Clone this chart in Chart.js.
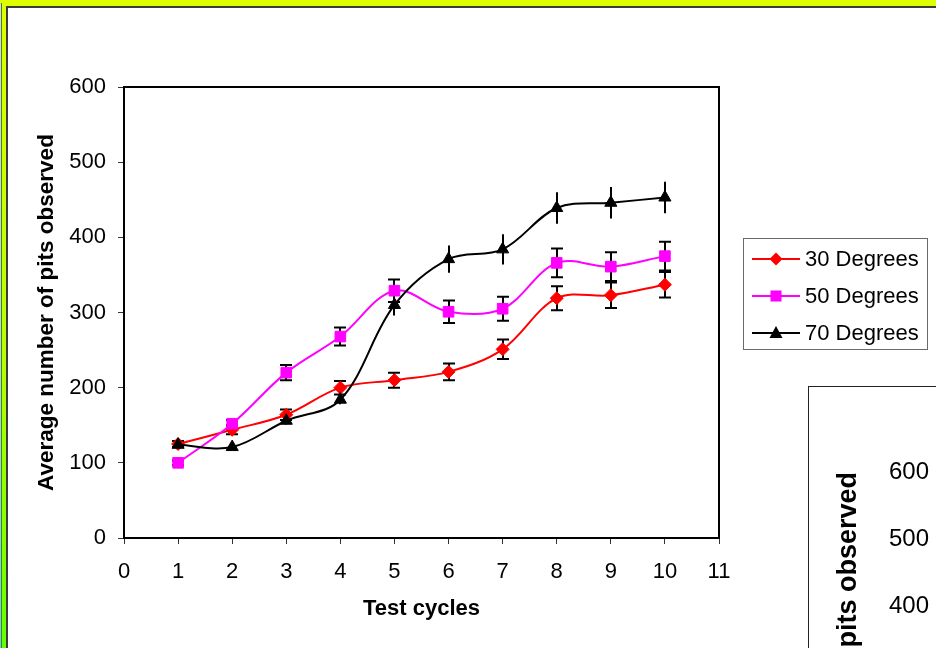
<!DOCTYPE html>
<html>
<head>
<meta charset="utf-8">
<script src="https://cdn.jsdelivr.net/npm/chart.js@4.4.0/dist/chart.umd.min.js"></script>
<style>
html, body { margin: 0; padding: 0; width: 936px; height: 648px; overflow: hidden; }
body { position: relative; background: linear-gradient(to bottom, #dfff00 0%, #b8ff00 55%, #66ff00 100%); }
#edge { position: absolute; left: 1px; top: 3px; width: 1px; height: 645px; background: #3a5cff; }
#page { position: absolute; left: 6px; top: 6px; width: 1000px; height: 1000px; background: #fff;
        border-left: 2px solid #3c3c3c; border-top: 2px solid #3c3c3c; }
#main { position: absolute; left: 0; top: 0; }
#box2 { position: absolute; left: 808px; top: 386px; width: 600px; height: 600px; background: #fff;
        border-left: 1px solid #222; border-top: 1px solid #222; }
#second { position: absolute; left: 0; top: 0; }
</style>
</head>
<body>
<div id="edge"></div>
<div id="page"></div>
<canvas id="main" width="936" height="648"></canvas>
<div id="box2"><canvas id="second" width="600" height="600"></canvas></div>
<script>
// data
var cycles = [1, 2, 3, 4, 5, 6, 7, 8, 9, 10];
var deg30 = [125, 144, 164, 200, 210, 221, 251, 319, 323, 337];
var deg30_err = [4, 6, 7, 9, 10, 11, 13, 16, 17, 17];
var deg50 = [100, 152, 220, 268, 329, 301, 305, 366, 361, 375];
var deg50_err = [3, 5, 10, 12, 15, 15, 16, 19, 19, 19];
var deg70 = [124, 121, 156, 184, 310, 371, 384, 439, 446, 453];
var deg70_err = [4, 3, 5, 6, 14, 18, 20, 21, 21, 21];
var x_ticks = [0, 1, 2, 3, 4, 5, 6, 7, 8, 9, 10, 11];
var y_ticks = [0, 100, 200, 300, 400, 500, 600];
var series_labels = ["30 Degrees", "50 Degrees", "70 Degrees"];

var FONT = "'Liberation Sans', Arial, sans-serif";

function points(ys) {
    return cycles.map(function(c, i) { return { x: c, y: ys[i] }; });
}

function drawMarker(ctx, shape, x, y, color) {
    ctx.save();
    ctx.fillStyle = color;
    ctx.beginPath();
    if (shape === "rectRot") {
        var r = 6.5;
        ctx.moveTo(x, y - r); ctx.lineTo(x + r, y); ctx.lineTo(x, y + r); ctx.lineTo(x - r, y);
    } else if (shape === "rect") {
        ctx.rect(x - 5.5, y - 5.5, 11, 11);
    } else {
        ctx.moveTo(x, y - 7); ctx.lineTo(x + 6.5, y + 5); ctx.lineTo(x - 6.5, y + 5);
    }
    ctx.closePath();
    ctx.fill();
    ctx.restore();
}

// error bars, drawn under the markers
var errorBars = {
    id: "errorBars",
    beforeDatasetsDraw: function(chart) {
        var ctx = chart.ctx;
        var xs = chart.scales.x, ys = chart.scales.y;
        ctx.save();
        ctx.strokeStyle = "#000";
        ctx.lineWidth = 2;
        chart.data.datasets.forEach(function(ds) {
            if (!ds.errors) return;
            ds.data.forEach(function(p, i) {
                var e = ds.errors[i];
                var px = Math.round(xs.getPixelForValue(p.x));
                var top = ys.getPixelForValue(p.y + e);
                var bot = ys.getPixelForValue(p.y - e);
                ctx.beginPath();
                ctx.moveTo(px, top); ctx.lineTo(px, bot);
                if (ds.capWidth) {
                    ctx.moveTo(px - ds.capWidth, top); ctx.lineTo(px + ds.capWidth, top);
                    ctx.moveTo(px - ds.capWidth, bot); ctx.lineTo(px + ds.capWidth, bot);
                }
                ctx.stroke();
            });
        });
        ctx.restore();
    },
    afterDraw: function(chart) {
        var ctx = chart.ctx, a = chart.chartArea;
        ctx.save();
        // plot box
        ctx.strokeStyle = "#000";
        ctx.lineWidth = 2;
        ctx.strokeRect(a.left, a.top, a.right - a.left, a.bottom - a.top);
        // legend
        ctx.lineWidth = 1;
        ctx.strokeStyle = "#6a6a6a";
        ctx.strokeRect(743.5, 238.5, 184, 111);
        ctx.font = "22px " + FONT;
        ctx.textBaseline = "middle";
        ctx.fillStyle = "#000";
        chart.data.datasets.forEach(function(ds, i) {
            var y = 259 + i * 37;
            ctx.strokeStyle = ds.borderColor;
            ctx.lineWidth = 2;
            ctx.beginPath();
            ctx.moveTo(752, y); ctx.lineTo(800, y);
            ctx.stroke();
            drawMarker(ctx, ds.pointStyle, 776, y, ds.pointBackgroundColor);
            ctx.fillStyle = "#000";
            ctx.fillText(ds.label, 805, y + 1);
        });
        ctx.restore();
    }
};

var ctx = document.getElementById("main").getContext("2d");
var myChart = new Chart(ctx, {
    type: "line",
    data: {
        datasets: [{
            label: series_labels[0],
            data: points(deg30),
            errors: deg30_err,
            capWidth: 6,
            borderColor: "#ff0000",
            pointBackgroundColor: "#ff0000",
            pointBorderColor: "#ff0000",
            pointStyle: "rectRot",
            pointRadius: 6.5,
            order: 3,
        }, {
            label: series_labels[1],
            data: points(deg50),
            errors: deg50_err,
            capWidth: 6,
            borderColor: "#ff00ff",
            pointBackgroundColor: "#ff00ff",
            pointBorderColor: "#ff00ff",
            pointStyle: "rect",
            pointRadius: 7.5,
            order: 2,
        }, {
            label: series_labels[2],
            data: points(deg70),
            errors: deg70_err,
            capWidth: 0,
            borderColor: "#000000",
            pointBackgroundColor: "#000000",
            pointBorderColor: "#000000",
            pointStyle: "triangle",
            pointRadius: 7,
            order: 1,
        }],
    },
    options: {
        responsive: false,
        animation: false,
        layout: { padding: { left: 30, top: 87, right: 217, bottom: 10 } },
        elements: { line: { tension: 0.35, borderWidth: 2, fill: false }, point: { borderWidth: 1 } },
        plugins: { legend: { display: false }, tooltip: { enabled: false } },
        scales: {
            x: {
                type: "linear",
                min: 0,
                max: 11,
                afterBuildTicks: function(s) { s.ticks = x_ticks.map(function(v) { return { value: v }; }); },
                afterFit: function(s) { s.height = 100; },
                grid: { drawOnChartArea: false, drawTicks: true, tickLength: 6, color: "#333", lineWidth: 1 },
                border: { display: true, color: "#000", width: 2 },
                ticks: { color: "#000", font: { family: FONT, size: 22 }, padding: 15, maxRotation: 0, autoSkip: false },
                title: { display: true, text: "Test cycles", color: "#000",
                         font: { family: FONT, size: 22, weight: "bold" }, padding: { top: 0, bottom: 16 } },
            },
            y: {
                type: "linear",
                min: 0,
                max: 600,
                afterBuildTicks: function(s) { s.ticks = y_ticks.map(function(v) { return { value: v }; }); },
                afterFit: function(s) { s.width = 94; },
                grid: { drawOnChartArea: false, drawTicks: true, tickLength: 6, color: "#333", lineWidth: 1 },
                border: { display: true, color: "#000", width: 2 },
                ticks: { color: "#000", font: { family: FONT, size: 22 }, padding: 12 },
                title: { display: true, text: "Average number of pits observed", color: "#000",
                         font: { family: FONT, size: 22.5, weight: "bold" }, padding: { top: 3, bottom: 0 } },
            },
        },
    },
    plugins: [errorBars],
});

// second chart, mostly outside the window
var ctx2 = document.getElementById("second").getContext("2d");
var secondChart = new Chart(ctx2, {
    type: "line",
    data: { datasets: [] },
    options: {
        responsive: false,
        animation: false,
        layout: { padding: { left: 20, top: 85, right: 10, bottom: 113 } },
        plugins: { legend: { display: false }, tooltip: { enabled: false } },
        scales: {
            x: { type: "linear", min: 0, max: 11, display: false },
            y: {
                type: "linear",
                min: 0,
                max: 600,
                afterBuildTicks: function(s) { s.ticks = y_ticks.map(function(v) { return { value: v }; }); },
                afterFit: function(s) { s.width = 118; },
                grid: { drawOnChartArea: false, drawTicks: true, tickLength: 6, color: "#333" },
                border: { display: true, color: "#000", width: 2 },
                ticks: { color: "#000", font: { family: FONT, size: 24 }, padding: 12 },
                title: { display: true, text: "Average number of pits observed", color: "#000", align: "end",
                         font: { family: FONT, size: 27, weight: "bold" }, padding: { top: 3, bottom: 0 } },
            },
        },
    },
});
</script>
</body>
</html>
